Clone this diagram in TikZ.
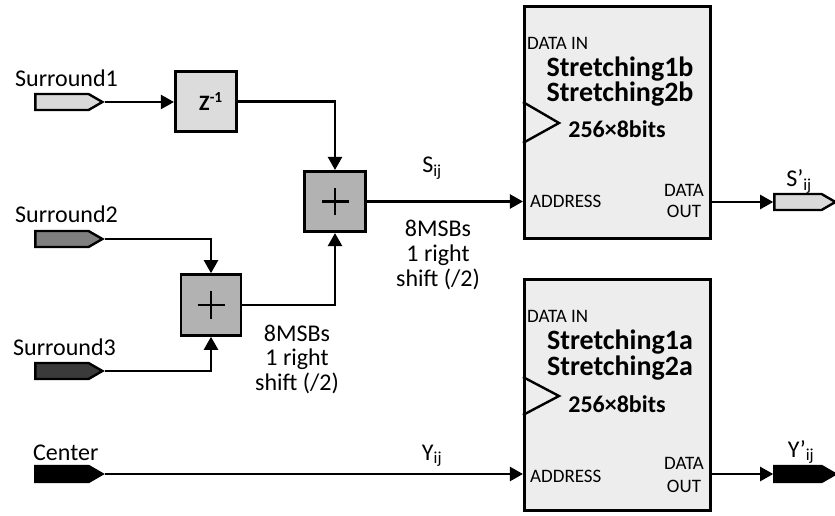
\documentclass[tikz,border=0pt]{standalone}
\usepackage{fontspec}
\setmainfont{Carlito}
\usetikzlibrary{arrows.meta,shapes.symbols}
\definecolor{pS1}{HTML}{D9D9D9}
\definecolor{pS2}{HTML}{7F7F7F}
\definecolor{pS3}{HTML}{3A3A3A}
\definecolor{zfill}{HTML}{DCDCDC}
\definecolor{addfill}{HTML}{B2B2B2}
\definecolor{romfill}{HTML}{EDEDED}
\begin{document}
\begin{tikzpicture}[x=1bp,y=-1bp,
  wire/.style={line width=2.4bp},
  arr/.style={wire,-{Triangle[length=13bp,width=14bp]}},
  port/.style={draw,line width=2.4bp,shape=signal,signal to=east,signal pointer angle=60,
    minimum width=67bp,minimum height=16bp,inner sep=0pt,anchor=west},
  blk/.style={draw,line width=2.6bp,inner sep=0pt},
  lbl/.style={font=\fontsize{24bp}{25bp}\selectfont,inner sep=0pt},
  small/.style={font=\fontsize{19bp}{20bp}\selectfont,inner sep=0pt},
  big/.style={font=\bfseries\fontsize{28bp}{22bp}\selectfont,inner sep=0pt,align=center},
  mid/.style={font=\bfseries\fontsize{24bp}{24bp}\selectfont,inner sep=0pt},
  plus/.style={line width=2.1bp}
]
\useasboundingbox (0,0) rectangle (835,516);

% input ports
\node[port,fill=pS1] (s1) at (34.2,102) {};
\node[port,fill=pS2] (s2) at (34.2,239) {};
\node[port,fill=pS3] (s3) at (34.2,371) {};
\node[port,fill=black] (cen) at (34.2,474) {};
\node[lbl,anchor=base west] (t1) at (15,87) {Surround1};
\node[lbl,anchor=base west] (t2) at (15,223) {Surround2};
\node[lbl,anchor=base west] (t3) at (13,355) {Surround3};
\node[lbl,anchor=base west] (t4) at (33,460) {Center};

% delay and adders
\node[blk,fill=zfill,minimum width=61.5bp,minimum height=60.5bp] (z) at (206,101.5)
  {\bfseries\fontsize{22bp}{22bp}\selectfont\hspace{10bp}Z\textsuperscript{-1}};
\node[blk,fill=addfill,minimum width=61.5bp,minimum height=60.5bp] (add1) at (335,201.5) {};
\node[blk,fill=addfill,minimum width=60bp,minimum height=61bp] (add2) at (211,305) {};
\draw[plus] ([xshift=-13.5bp]add1.center) -- ([xshift=13.5bp]add1.center);
\draw[plus] ([yshift=-13.5bp]add1.center) -- ([yshift=13.5bp]add1.center);
\draw[plus] ([xshift=-13.5bp]add2.center) -- ([xshift=13.5bp]add2.center);
\draw[plus] ([yshift=-13.5bp]add2.center) -- ([yshift=13.5bp]add2.center);

% ROMs
\node[blk,fill=romfill,minimum width=186.5bp,minimum height=232.5bp] (rom1) at (617.5,122.5) {};
\node[blk,fill=romfill,minimum width=186.5bp,minimum height=231.5bp] (rom2) at (617.5,395) {};
\draw[wire] (rom1.west |- 0,102) -- (559,123) -- (rom1.west |- 0,143);
\draw[wire] (rom2.west |- 0,377) -- (559,396) -- (rom2.west |- 0,415);

\node[small,anchor=base west] (r1in) at (527,50) {DATA IN};
\node[big,anchor=base] (r1a) at (620,102) {Stretching1b\\Stretching2b};
\node[mid,anchor=base] (r1c) at (617,138) {256×8bits};
\node[small,anchor=base west] (r1ad) at (530,208) {ADDRESS};
\node[small,anchor=base] (r1d) at (684,197) {DATA};
\node[small,anchor=base] (r1o) at (684,218) {OUT};

\node[small,anchor=base west] (r2in) at (527,323) {DATA IN};
\node[big,anchor=base] (r2a) at (620,375) {Stretching1a\\Stretching2a};
\node[mid,anchor=base] (r2c) at (617,412) {256×8bits};
\node[small,anchor=base west] (r2ad) at (530,482) {ADDRESS};
\node[small,anchor=base] (r2d) at (684,469) {DATA};
\node[small,anchor=base] (r2o) at (684,492) {OUT};

% output ports
\node[port,fill=pS1,minimum width=61bp] (sp) at (773.2,202) {};
\node[port,fill=black,minimum width=61bp] (yp) at (773.2,474) {};

% connectors
\draw[arr] (s1.east) -- (s1.east -| z.west);
\draw[arr] (z.east) -| (add1.north);
\draw[arr] (s2.east) -| (add2.north);
\draw[arr] (s3.east) -| (add2.south);
\draw[arr] (add2.east) -| (add1.south);
\draw[arr] (add1.east) -- (add1.east -| rom1.west);
\draw[arr] (rom1.east |- sp.west) -- (sp.west);
\draw[arr] (cen.east) -- (cen.east -| rom2.west);
\draw[arr] (rom2.east |- yp.west) -- (yp.west);

% labels
\node[lbl,anchor=base] (sij) at (432,173) {S\textsubscript{ij}};
\node[lbl,anchor=base] (m1a) at (438,237) {8MSBs};
\node[lbl,anchor=base] (m1b) at (438,262) {1 right};
\node[lbl,anchor=base] (m1c) at (438,287) {shift (/2)};
\node[lbl,anchor=base] (m2a) at (297,341) {8MSBs};
\node[lbl,anchor=base] (m2b) at (297,365) {1 right};
\node[lbl,anchor=base] (m2c) at (297,390) {shift (/2)};
\node[lbl,anchor=base] (yij) at (432,460) {Y\textsubscript{ij}};
\node[lbl,anchor=base] (spl) at (799,187) {S’\textsubscript{ij}};
\node[lbl,anchor=base] (ypl) at (801,457) {Y’\textsubscript{ij}};
\end{tikzpicture}
\end{document}
